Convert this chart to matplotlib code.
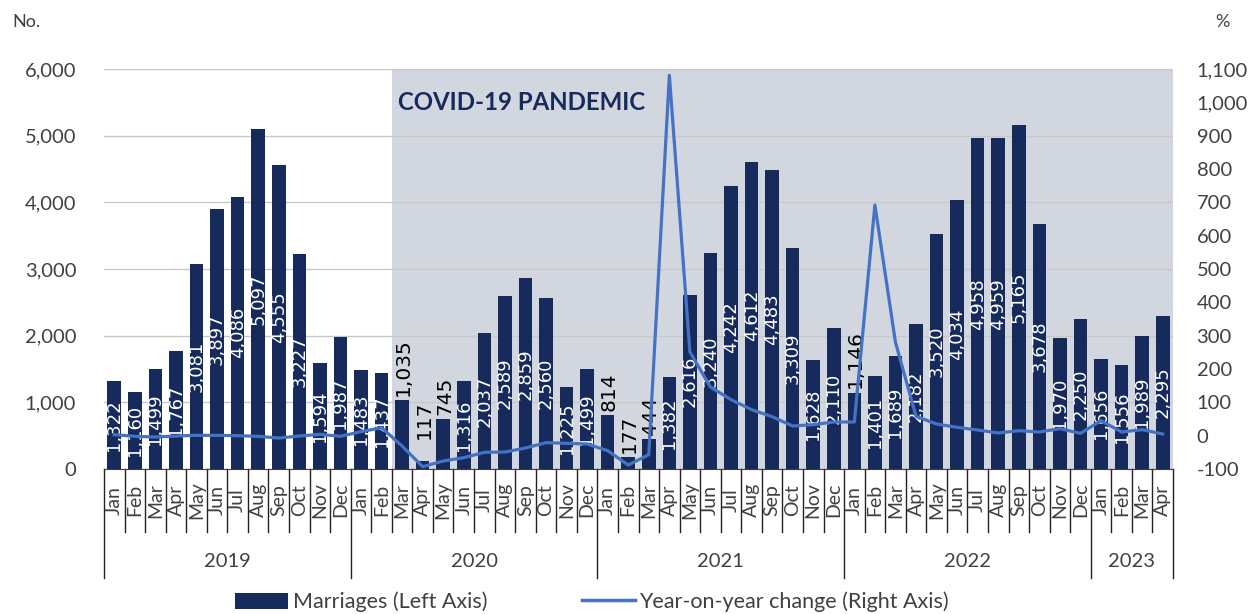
import numpy as np
import matplotlib.pyplot as plt
from matplotlib.patches import Patch
from matplotlib.lines import Line2D

plt.rcParams['font.family'] = ['Lato', 'DejaVu Sans']

# Data
years = ['2019', '2020', '2021', '2022', '2023']
months_per_year = [12, 12, 12, 12, 4]
month_names = ['Jan', 'Feb', 'Mar', 'Apr', 'May', 'Jun',
               'Jul', 'Aug', 'Sep', 'Oct', 'Nov', 'Dec']

marriages = [
    1322, 1160, 1499, 1767, 3081, 3897, 4086, 5097, 4555, 3227, 1594, 1987,   # 2019
    1483, 1437, 1035, 117, 745, 1316, 2037, 2589, 2859, 2560, 1225, 1499,     # 2020
    814, 177, 444, 1382, 2616, 3240, 4242, 4612, 4483, 3309, 1628, 2110,      # 2021
    1146, 1401, 1689, 2182, 3520, 4034, 4958, 4959, 5165, 3678, 1970, 2250,   # 2022
    1656, 1556, 1989, 2295,                                                   # 2023
]

yoy = [
    3, -2, -4, -1, 1, 1, 0, -2, -7, -1, 4, -2,             # 2019
    12, 24, -31, -93, -76, -66, -50, -49, -37, -21, -23, -25,  # 2020
    -45, -88, -57, 1081, 251, 146, 108, 78, 57, 29, 33, 41,    # 2021
    41, 692, 280, 58, 35, 25, 17, 8, 15, 11, 21, 7,            # 2022
    45, 11, 18, 5,                                             # 2023
]

# labels drawn above the bar in black
outside_labels = [14, 15, 16, 24, 25, 26, 36]

navy = '#162B5C'
line_blue = '#4472C4'
shade = '#D2D6DF'
txt_gray = '#404040'

n = len(marriages)
x = np.arange(n)
month_labels = []
for cnt in months_per_year:
    month_labels += month_names[:cnt]

fig = plt.figure(figsize=(12.53, 6.14), dpi=100)
ax = fig.add_axes([104 / 1253, 1 - 469 / 614, (1173 - 104) / 1253, 400 / 614])

# pandemic shading from Mar 2020 onwards
ax.axvspan(13.5, n - 0.5, color=shade, zorder=0, lw=0)
ax.text(13.8, 5500, 'COVID-19 PANDEMIC', fontsize=17.3, fontweight='bold',
        color=navy, va='center', ha='left', zorder=3)

ax.bar(x, marriages, width=0.66, color=navy, zorder=2)
ax.set_xlim(-0.5, n - 0.5)
ax.set_ylim(0, 6000)
ax.set_yticks(range(0, 6001, 1000))
ax.set_yticklabels([f'{v:,}' for v in range(0, 6001, 1000)])
ax.yaxis.grid(True, color='#C8C8C8', lw=1)
ax.set_axisbelow(True)
ax.tick_params(axis='y', length=0, pad=20, labelsize=14.5, labelcolor=txt_gray)
ax.set_xticks([])
for s in ['top', 'left', 'right']:
    ax.spines[s].set_visible(False)
ax.spines['bottom'].set_color('#404040')

# bar labels
for i, v in enumerate(marriages):
    if i in outside_labels:
        off = 16 if i == 15 else 3
        ax.annotate(f'{v:,}', (i, v), xytext=(1, off), textcoords='offset points',
                    rotation=90, ha='center', va='bottom', fontsize=14.5,
                    color='black', family='DejaVu Sans', zorder=4)
    else:
        ax.text(i, v / 2, f'{v:,}', rotation=90, ha='center', va='center',
                fontsize=13, color='white', family='DejaVu Sans', zorder=3)

# right axis: year-on-year change
ax2 = ax.twinx()
ax2.plot(x, yoy, color=line_blue, lw=2.3, zorder=5)
ax2.set_ylim(-100, 1100)
ax2.set_yticks(range(-100, 1101, 100))
ax2.set_yticklabels([f'{v:,}' for v in range(-100, 1101, 100)])
ax2.tick_params(axis='y', length=0, pad=17, labelsize=14.5, labelcolor=txt_gray)
for s in ['top', 'left', 'right', 'bottom']:
    ax2.spines[s].set_visible(False)

# multi-level category axis
trans = ax.get_xaxis_transform()
month_bottom = -0.1575
year_bottom = -0.2725
year_edges = np.cumsum([0] + months_per_year)
for b in range(n + 1):
    y_end = year_bottom if b in year_edges else month_bottom
    ax.plot([b - 0.5, b - 0.5], [0, y_end], color='#222222', lw=1,
            transform=trans, clip_on=False)
for i, m in enumerate(month_labels):
    ax.text(i, -0.078, m, rotation=90, ha='center', va='center', fontsize=14,
            color=txt_gray, transform=trans)
for k, yr in enumerate(years):
    mid = (year_edges[k] + year_edges[k + 1]) / 2 - 0.5
    ax.text(mid, -0.232, yr, ha='center', va='center', fontsize=14.5,
            color=txt_gray, transform=trans)

# axis units
fig.text(12 / 1253, 1 - 22 / 614, 'No.', fontsize=13, color=txt_gray,
         ha='left', va='center')
fig.text(1222 / 1253, 1 - 22 / 614, '%', fontsize=13, color=txt_gray,
         ha='center', va='center')

# legend
handles = [Patch(facecolor=navy, edgecolor='none'),
           Line2D([], [], color=line_blue, lw=2.5)]
fig.legend(handles, ['Marriages (Left Axis)', 'Year-on-year change (Right Axis)'],
           loc='center', bbox_to_anchor=(592 / 1253, 1 - 602 / 614), ncol=2,
           frameon=False, fontsize=15.5, handlelength=2.45, handleheight=0.8,
           handletextpad=0.22, columnspacing=4.4, labelcolor=txt_gray)

fig.savefig('out.png', dpi=100)
